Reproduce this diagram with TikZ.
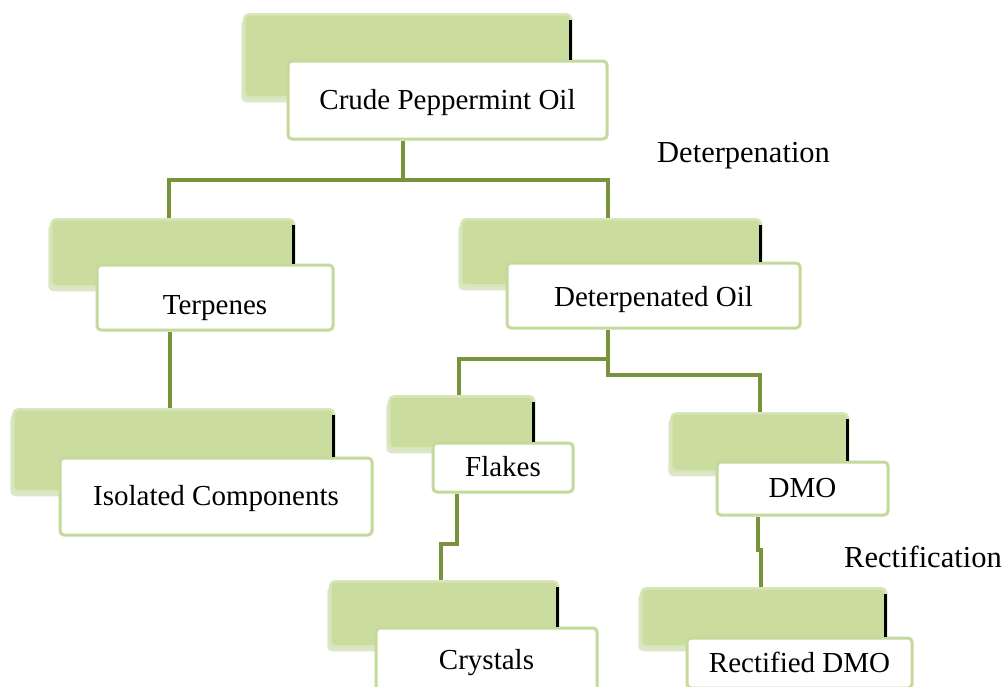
\documentclass[tikz,border=0pt]{standalone}
\usepackage{fontspec}
\setmainfont{Liberation Serif}
\usetikzlibrary{shadows,calc}
\definecolor{gfill}{HTML}{CADD9F}
\definecolor{gedge}{HTML}{D7E6B9}
\definecolor{wedge}{HTML}{C4D99B}
\definecolor{conncol}{HTML}{77933C}
\definecolor{gshadow}{HTML}{BCCF92}
\tikzset{
 greenbox/.style={draw=gedge, fill=gfill, line width=2.5pt, rounded corners=5pt, inner sep=0pt, anchor=north west,
   drop shadow={shadow xshift=-3pt, shadow yshift=-5pt, fill=gshadow, opacity=0.5}},
 whitebox/.style={draw=wedge, fill=white, line width=3pt, rounded corners=4pt, inner sep=0pt, anchor=center,
   font=\fontsize{29}{34}\selectfont, text depth=7pt},
 link/.style={draw=conncol, line width=4pt},
 bar/.style={draw=black, line width=3pt},
 lbl/.style={font=\fontsize{30.5}{36}\selectfont, anchor=west, inner sep=0pt}
}
\newcommand\mygbox[5]{\node[greenbox, minimum width={(#4-#2)*1pt}, minimum height={(#5-#3)*1pt}] (#1) at (#2,#3) {};}
\newcommand\mywbox[7]{\node[whitebox, text height={(20+2*#7)*1pt}, minimum width={(#4-#2)*1pt}, minimum height={(#5-#3)*1pt}] (#1) at ({(#2+#4)/2},{(#3+#5)/2}) {#6};}
\newcommand\mybar[2]{\draw[bar] ($(#1.north east)+(-2,7)$) -- ($(#1.north east |- #2.north)+(-2,0)$);}
\begin{document}
\begin{tikzpicture}[x=1pt,y=-1pt]
\useasboundingbox (0,0) rectangle (1003,686);
\clip (0,0) rectangle (1003,686);
\fill[white] (0,0) rectangle (1003,686);

% back boxes
\mygbox{g1}{243}{13}{570}{96}
\mygbox{g2}{50}{218}{293}{285}
\mygbox{g3}{460}{218}{760}{284}
\mygbox{g4}{12}{408}{333}{490}
\mygbox{g5}{388}{395}{533}{447}
\mygbox{g6}{670}{412}{847}{470}
\mygbox{g7}{329}{580}{557}{645}
\mygbox{g8}{640}{587}{885}{645}

% front boxes
\mywbox{w1}{288}{61}{607}{139}{Crude Peppermint Oil}{3}
\mywbox{w2}{97}{265}{333}{330}{Terpenes}{10}
\mywbox{w3}{507}{263}{800}{328}{Deterpenated Oil}{4}
\mywbox{w4}{60}{458}{372}{535}{Isolated Components}{2}
\mywbox{w5}{433}{443}{573}{492}{Flakes}{2}
\mywbox{w6}{717}{462}{888}{515}{DMO}{2}
\mywbox{w7}{376}{628}{597}{692}{Crystals}{3}
\mywbox{w8}{687}{638}{912}{688}{Rectified DMO}{3}

% connectors
\draw[link] ([xshift=-45pt]w1.south) -- ++(0,39) coordinate (j1);
\draw[link] ([xshift=-4pt]g2.north) |- (j1) -| ([xshift=-3pt]g3.north);
\draw[link] ($(g4.north |- w2.south)+(-4,0)$) -- ([xshift=-4pt]g4.north);
\draw[link] ([xshift=-46pt]w3.south) -- ++(0,29) -| ([xshift=-3pt]g5.north);
\draw[link] ([xshift=-46pt]w3.south) -- ++(0,45) -| (g6.north);
\draw[link] ([xshift=-46pt]w5.south) -- ++(0,50) -| ([xshift=-3pt]g7.north);
\draw[link] ([xshift=-45pt]w6.south) -- ++(0,33) -| ([xshift=-3pt]g8.north);

% black bars
\mybar{g1}{w1}
\mybar{g2}{w2}
\mybar{g3}{w3}
\mybar{g4}{w4}
\mybar{g5}{w5}
\mybar{g6}{w6}
\mybar{g7}{w7}
\mybar{g8}{w8}

% labels
\node[lbl] (deterp) at (657,156) {Deterpenation};
\node[lbl] (rectif) at (844,557) {Rectification};
\end{tikzpicture}
\end{document}
